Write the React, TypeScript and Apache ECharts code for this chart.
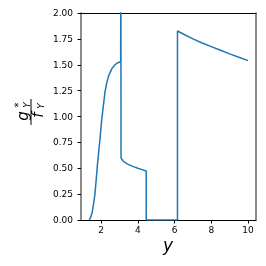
import React, { useEffect, useRef } from "react";
import * as echarts from "echarts";

const xValues = [
  1.36, 1.45, 1.53, 1.6, 1.67, 1.74, 1.8, 1.87, 1.95, 2.03, 2.1, 2.22, 2.32, 2.43, 2.6, 2.76, 2.92, 3.07,
  3.08, 3.09, 3.2, 3.4, 3.6, 3.8, 4.0, 4.2, 4.46, 4.46, 6.16, 6.16, 6.5, 7.0, 7.5, 8.0, 8.5, 9.0, 9.5, 10.0,
];
const yValues = [
  0, 0.03, 0.08, 0.16, 0.25, 0.39, 0.52, 0.65, 0.79, 0.95, 1.06, 1.24, 1.33, 1.4, 1.465, 1.5, 1.52, 1.53,
  2.6, 0.6, 0.57, 0.545, 0.528, 0.513, 0.5, 0.489, 0.473, 0, 0, 1.826, 1.795, 1.75, 1.71, 1.675, 1.64, 1.605,
  1.572, 1.54,
];
const xTicks = [2, 4, 6, 8, 10];

const FONT = "DejaVu Sans";

export default function App() {
  const ref = useRef<HTMLDivElement>(null);
  useEffect(() => {
    if (!ref.current) return;
    const chart = echarts.init(ref.current, null, { renderer: "svg" });
    const data = xValues.map((x, i) => [x, yValues[i]]);
    chart.setOption({
      animation: false,
      grid: { left: 81, right: 10, top: 13, bottom: 46 },
      xAxis: [
        {
          type: "value",
          min: 0.913,
          max: 10.43,
          axisLine: { show: true, lineStyle: { color: "#000", width: 1 } },
          axisTick: { show: true, customValues: xTicks, length: 3.5, lineStyle: { color: "#000" } },
          axisLabel: {
            customValues: xTicks,
            margin: 5,
            fontFamily: FONT,
            fontSize: 9,
            color: "#000",
          },
          splitLine: { show: false },
        },
        {
          type: "value",
          position: "top",
          min: 0.913,
          max: 10.43,
          axisLine: { show: true, onZero: false, lineStyle: { color: "#000", width: 1 } },
          axisTick: { show: false },
          axisLabel: { show: false },
          splitLine: { show: false },
        },
      ],
      yAxis: [
        {
          type: "value",
          min: 0,
          max: 2,
          interval: 0.25,
          axisLine: { show: true, lineStyle: { color: "#666", width: 1.5 } },
          axisTick: { show: true, length: 3.5, lineStyle: { color: "#000" } },
          axisLabel: {
            margin: 8,
            fontFamily: FONT,
            fontSize: 9,
            color: "#000",
            formatter: (v: number) => v.toFixed(2),
          },
          splitLine: { show: false },
        },
        {
          type: "value",
          position: "right",
          min: 0,
          max: 2,
          axisLine: { show: true, onZero: false, lineStyle: { color: "#666", width: 1.5 } },
          axisTick: { show: false },
          axisLabel: { show: false },
          splitLine: { show: false },
        },
      ],
      series: [
        {
          type: "line",
          data,
          showSymbol: false,
          clip: true,
          lineStyle: { color: "#1f77b4", width: 1.5 },
        },
      ],
      graphic: [
        {
          type: "text",
          x: 168,
          y: 245,
          style: {
            text: "y",
            font: `italic 17px ${FONT}`,
            fill: "#000",
            textAlign: "center",
            textVerticalAlign: "middle",
          },
        },
        {
          type: "group",
          x: 30,
          y: 112,
          rotation: Math.PI / 2,
          children: [
            {
              type: "text",
              x: -4,
              y: -7,
              style: {
                text: "g",
                font: `italic 15px ${FONT}`,
                fill: "#000",
                textAlign: "center",
                textVerticalAlign: "middle",
              },
            },
            {
              type: "text",
              x: 7,
              y: -12,
              style: {
                text: "*",
                font: `10px ${FONT}`,
                fill: "#000",
                textAlign: "center",
                textVerticalAlign: "middle",
              },
            },
            {
              type: "text",
              x: 7,
              y: -3,
              style: {
                text: "Y",
                font: `italic 9px ${FONT}`,
                fill: "#000",
                textAlign: "center",
                textVerticalAlign: "middle",
              },
            },
            {
              type: "line",
              shape: { x1: -13, y1: 1, x2: 13, y2: 1 },
              style: { stroke: "#000", lineWidth: 1 },
            },
            {
              type: "text",
              x: -3,
              y: 8,
              style: {
                text: "f",
                font: `italic 15px ${FONT}`,
                fill: "#000",
                textAlign: "center",
                textVerticalAlign: "middle",
              },
            },
            {
              type: "text",
              x: 6,
              y: 11,
              style: {
                text: "Y",
                font: `italic 9px ${FONT}`,
                fill: "#000",
                textAlign: "center",
                textVerticalAlign: "middle",
              },
            },
          ],
        },
      ],
    });
    return () => chart.dispose();
  }, []);
  return (
    <div
      ref={ref}
      style={{ position: "fixed", left: 0, top: 0, width: 266, height: 266 }}
    />
  );
}
